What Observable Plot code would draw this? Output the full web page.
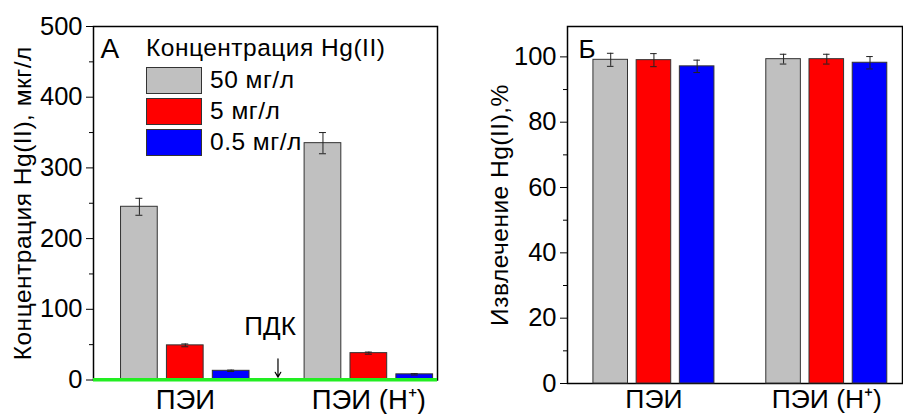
<!DOCTYPE html>
<html><head><meta charset="utf-8">
<script src="https://cdn.jsdelivr.net/npm/d3@7"></script>
<script src="https://cdn.jsdelivr.net/npm/@observablehq/plot@0.6"></script>
<style>
body{margin:0;background:#fff;}
#wrap{position:relative;width:903px;height:414px;overflow:hidden;font-family:"Liberation Sans",Arial,sans-serif;color:#000;}
#a,#b{position:absolute;top:0;}
#a{left:0}#b{left:450px}
#legend{position:absolute;left:146px;top:36px;font-size:24.5px;letter-spacing:0.5px;line-height:1;}
#legend .title{height:29px;}
#legend .row{display:flex;align-items:center;height:31px;}
#legend .sw{width:54px;height:25px;border:1px solid #333;margin-right:8px;box-sizing:content-box;}
g[aria-label="y-axis label"]{font-size:24.5px;letter-spacing:0.5px;}
</style>
</head><body>
<div id="wrap"><div id="a"></div><div id="b"></div><div id="legend"></div></div>
<script>
const groups = ["ПЭИ", "ПЭИ (H⁺)"];
const series = ["50 мг/л", "5 мг/л", "0.5 мг/л"];
const colors = ["#c0c0c0", "#ff0000", "#0000ff"];
const legendTitle = "Концентрация Hg(II)";
// Panel A: residual concentration, µg/L
const concValues = [[245, 49, 13], [335, 38, 8]];
const concErrors = [[12, 2, 1], [15, 1.5, 1]];
const concTicks = [0, 100, 200, 300, 400, 500];
const concMinor = [50, 150, 250, 350, 450];
// Panel B: recovery, %
const recValues = [[99.1, 99.0, 97.1], [99.3, 99.3, 98.2]];
const recErrors = [[2, 2, 1.9], [1.5, 1.5, 1.9]];
const recTicks = [0, 20, 40, 60, 80, 100];
const recMinor = [10, 30, 50, 70, 90];
// ПДК annotation (MAC level line)
const pdkLevel = [0.5];
const pdkLabel = [{x: 1.462, y: 76, text: "ПДК"}];
const pdkArrow = [{x: 1.505, y1: 30, y2: 4}];

const offsets = [-0.25, 0, 0.25];
const halfBar = 0.1, halfCap = 0.019;

function rows(values, errors) {
  const out = [];
  groups.forEach((g, gi) => series.forEach((s, si) => out.push({
    group: g, series: s, value: values[gi][si], err: errors[gi][si], pos: gi + 1 + offsets[si]
  })));
  return out;
}

const FS = 25.5, FX = 27.5;
const baseStyle = {fontFamily: "'Liberation Sans', Arial, sans-serif", fontSize: "24px", color: "#000", background: "#fff", overflow: "visible"};

function barMarks(data) {
  return [
    Plot.rectY(data, {x1: d => d.pos - halfBar, x2: d => d.pos + halfBar, y: "value", fill: "series", stroke: "#333", strokeWidth: 1}),
    Plot.ruleX(data, {x: "pos", y1: d => d.value - d.err, y2: d => d.value + d.err, stroke: "#222", strokeWidth: 1}),
    Plot.ruleY(data, {y: d => d.value + d.err, x1: d => d.pos - halfCap, x2: d => d.pos + halfCap, stroke: "#222", strokeWidth: 1}),
    Plot.ruleY(data, {y: d => d.value - d.err, x1: d => d.pos - halfCap, x2: d => d.pos + halfCap, stroke: "#222", strokeWidth: 1})
  ];
}

const dataA = rows(concValues, concErrors);
const plotA = Plot.plot({
  width: 450, height: 414,
  marginLeft: 93, marginRight: 13, marginTop: 26, marginBottom: 34.5,
  style: baseStyle,
  x: {type: "linear", domain: [0.5, 2.374]},
  y: {domain: [0, 500]},
  color: {domain: series, range: colors},
  marks: [
    Plot.frame({stroke: "#000", strokeWidth: 1.5}),
    ...barMarks(dataA),
    Plot.ruleY(pdkLevel, {y: d => d, stroke: "#22ee22", strokeWidth: 3.5}),
    Plot.arrow(pdkArrow, {x1: "x", x2: "x", y1: "y1", y2: "y2", stroke: "#000", strokeWidth: 1.2, headLength: 7}),
    Plot.text(pdkLabel, {x: "x", y: "y", text: "text", fontSize: 26, fill: "#000"}),
    Plot.text(["А"], {frameAnchor: "top-left", dx: 7, dy: 12, lineAnchor: "top", textAnchor: "start", fontSize: 28, fill: "#000"}),
    Plot.axisY({ticks: concTicks, tickSize: 7, tickPadding: 4, fontSize: FS, label: "Концентрация Hg(II), мкг/л", labelArrow: "none", labelAnchor: "center", labelOffset: 80}),
    Plot.axisY({ticks: concMinor, tickSize: 4, tickFormat: () => "", label: null}),
    Plot.axisX({ticks: [1, 2], tickFormat: i => groups[i - 1], tickSize: 0, tickPadding: 9, fontSize: FX, label: null})
  ]
});
document.getElementById("a").appendChild(plotA);

const dataB = rows(recValues, recErrors);
const plotB = Plot.plot({
  width: 453, height: 414,
  marginLeft: 117, marginRight: 1, marginTop: 26, marginBottom: 31,
  style: baseStyle,
  x: {type: "linear", domain: [0.5, 2.438]},
  y: {domain: [0, 109.3]},
  color: {domain: series, range: colors},
  marks: [
    Plot.frame({stroke: "#000", strokeWidth: 1.5}),
    ...barMarks(dataB),
    Plot.text(["Б"], {frameAnchor: "top-left", dx: 11, dy: 13, lineAnchor: "top", textAnchor: "start", fontSize: 26, fill: "#000"}),
    Plot.axisY({ticks: recTicks, tickSize: 7, tickPadding: 4, fontSize: FS, label: "Извлечение Hg(II),%", labelArrow: "none", labelAnchor: "center", labelOffset: 77}),
    Plot.axisY({ticks: recMinor, tickSize: 4, tickFormat: () => "", label: null}),
    Plot.axisX({ticks: [1, 2], tickFormat: i => groups[i - 1], tickSize: 0, tickPadding: 6, fontSize: 26.5, label: null})
  ]
});
document.getElementById("b").appendChild(plotB);

const leg = document.getElementById("legend");
const t = document.createElement("div"); t.className = "title"; t.textContent = legendTitle; leg.appendChild(t);
series.forEach((s, i) => {
  const r = document.createElement("div"); r.className = "row";
  const sw = document.createElement("div"); sw.className = "sw"; sw.style.background = colors[i];
  const lb = document.createElement("span"); lb.textContent = s;
  r.appendChild(sw); r.appendChild(lb); leg.appendChild(r);
});
</script>
</body></html>
